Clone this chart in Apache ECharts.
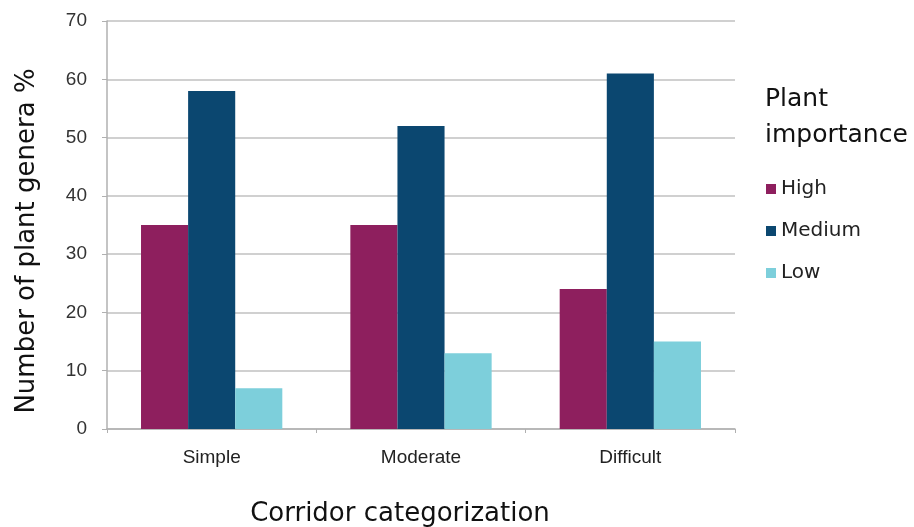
<!DOCTYPE html>
<html>
<head>
<meta charset="utf-8">
<script src="https://cdn.jsdelivr.net/npm/echarts@6/dist/echarts.min.js"></script>
<style>
  html, body { margin: 0; padding: 0; background: #fff; }
  #chart { width: 914px; height: 527px; }
</style>
</head>
<body>
<div id="chart"></div>
<script>
// Corridor categories and share of plant genera (%) by importance level
const categories = ['Simple', 'Moderate', 'Difficult'];
const highValues = [35, 35, 24];
const mediumValues = [58, 52, 61];
const lowValues = [7, 13, 15];
const seriesNames = ['High', 'Medium', 'Low'];
const seriesColors = ['#8E1F5E', '#0B4770', '#7DCFDB'];
const yAxisTitle = 'Number of plant genera %';
const xAxisTitle = 'Corridor categorization';
const legendTitle = 'Plant\nimportance';

const chart = echarts.init(document.getElementById('chart'));
const tickFont = '"Liberation Sans", Arial, sans-serif';
const titleFont = '"DejaVu Sans", sans-serif';

const makeBar = (name, data, color) => ({
  name: name,
  type: 'bar',
  data: data,
  barGap: '0%',
  barCategoryGap: '32.5%',
  itemStyle: { color: color },
  emphasis: { disabled: true }
});

const axisTitle = (text, x, y, rotation) => ({
  type: 'text',
  x: x,
  y: y,
  rotation: rotation,
  style: {
    text: text,
    fontFamily: titleFont,
    fontSize: 26,
    fill: '#111',
    textAlign: 'center',
    textVerticalAlign: 'middle'
  }
});

chart.setOption({
  animation: false,
  backgroundColor: '#ffffff',
  title: {
    text: legendTitle,
    left: 760,
    top: 76,
    textStyle: {
      fontFamily: titleFont,
      fontSize: 25,
      fontWeight: 'normal',
      color: '#111',
      lineHeight: 36
    }
  },
  legend: {
    orient: 'vertical',
    left: 761,
    top: 174,
    itemWidth: 10,
    itemHeight: 10,
    itemGap: 22,
    icon: 'rect',
    data: seriesNames,
    textStyle: { fontFamily: titleFont, fontSize: 20, color: '#222' }
  },
  graphic: [
    axisTitle(yAxisTitle, 27, 241, Math.PI / 2),
    axisTitle(xAxisTitle, 400, 514, 0)
  ],
  grid: {
    left: 107, right: 179, top: 21, bottom: 98,
    containLabel: false,
    outerBoundsMode: 'none'
  },
  xAxis: {
    type: 'category',
    data: categories,
    axisLine: { lineStyle: { color: '#b0b0b0', width: 1.5 } },
    axisTick: { show: true, alignWithLabel: false, length: 4, lineStyle: { color: '#b0b0b0' } },
    axisLabel: { fontFamily: tickFont, fontSize: 19, color: '#222', margin: 19 }
  },
  yAxis: {
    type: 'value',
    min: 0,
    max: 70,
    interval: 10,
    axisLine: { show: true, lineStyle: { color: '#b0b0b0', width: 1.5 } },
    axisTick: { show: true, length: 5, lineStyle: { color: '#b0b0b0' } },
    axisLabel: { fontFamily: tickFont, fontSize: 19, color: '#333', margin: 20 },
    splitLine: { lineStyle: { color: '#d0d0d0', width: 2 } }
  },
  series: [
    makeBar(seriesNames[0], highValues, seriesColors[0]),
    makeBar(seriesNames[1], mediumValues, seriesColors[1]),
    makeBar(seriesNames[2], lowValues, seriesColors[2])
  ]
});
</script>
</body>
</html>
